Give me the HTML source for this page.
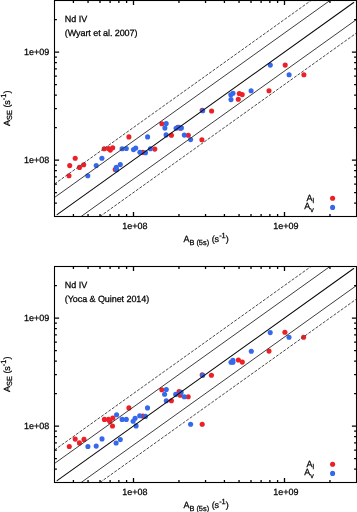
<!DOCTYPE html>
<html><head><meta charset="utf-8"><style>
html,body{margin:0;padding:0;background:#fff;width:357px;height:512px;overflow:hidden;}
text{stroke:#000;stroke-width:0.25px;}
svg{display:block;will-change:transform;text-rendering:geometricPrecision;font-family:"Liberation Sans",sans-serif;}
</style></head><body>
<svg width="357" height="512" viewBox="0 0 357 512" font-family="Liberation Sans, sans-serif" font-size="9.0" fill="#000">
<circle cx="69.0" cy="175.7" r="2.55" fill="#ec2027"/>
<circle cx="69.7" cy="165.6" r="2.55" fill="#ec2027"/>
<circle cx="75.2" cy="158.3" r="2.55" fill="#ec2027"/>
<circle cx="79.5" cy="167.4" r="2.55" fill="#ec2027"/>
<circle cx="83.7" cy="164.8" r="2.55" fill="#ec2027"/>
<circle cx="104.2" cy="148.8" r="2.55" fill="#ec2027"/>
<circle cx="108.5" cy="148.5" r="2.55" fill="#ec2027"/>
<circle cx="110.3" cy="150.1" r="2.55" fill="#ec2027"/>
<circle cx="112.7" cy="147.8" r="2.55" fill="#ec2027"/>
<circle cx="115.2" cy="169.6" r="2.55" fill="#ec2027"/>
<circle cx="128.9" cy="136.9" r="2.55" fill="#ec2027"/>
<circle cx="142.8" cy="152.4" r="2.55" fill="#ec2027"/>
<circle cx="154.8" cy="149.1" r="2.55" fill="#ec2027"/>
<circle cx="161.9" cy="123.8" r="2.55" fill="#ec2027"/>
<circle cx="171.4" cy="135.2" r="2.55" fill="#ec2027"/>
<circle cx="177.8" cy="127.3" r="2.55" fill="#ec2027"/>
<circle cx="180.3" cy="128.3" r="2.55" fill="#ec2027"/>
<circle cx="188.3" cy="135.2" r="2.55" fill="#ec2027"/>
<circle cx="202.2" cy="110.3" r="2.55" fill="#ec2027"/>
<circle cx="211.6" cy="111.0" r="2.55" fill="#ec2027"/>
<circle cx="201.9" cy="139.7" r="2.55" fill="#ec2027"/>
<circle cx="239.3" cy="93.5" r="2.55" fill="#ec2027"/>
<circle cx="242.2" cy="94.6" r="2.55" fill="#ec2027"/>
<circle cx="238.3" cy="99.2" r="2.55" fill="#ec2027"/>
<circle cx="269.0" cy="90.8" r="2.55" fill="#ec2027"/>
<circle cx="285.2" cy="65.1" r="2.55" fill="#ec2027"/>
<circle cx="303.9" cy="74.8" r="2.55" fill="#ec2027"/>
<circle cx="87.8" cy="175.8" r="2.55" fill="#3668ea"/>
<circle cx="96.2" cy="165.6" r="2.55" fill="#3668ea"/>
<circle cx="101.9" cy="158.3" r="2.55" fill="#3668ea"/>
<circle cx="116.3" cy="167.3" r="2.55" fill="#3668ea"/>
<circle cx="116.5" cy="169.8" r="2.55" fill="#3668ea"/>
<circle cx="120.3" cy="164.6" r="2.55" fill="#3668ea"/>
<circle cx="122.1" cy="148.8" r="2.55" fill="#3668ea"/>
<circle cx="126.3" cy="148.5" r="2.55" fill="#3668ea"/>
<circle cx="133.5" cy="149.6" r="2.55" fill="#3668ea"/>
<circle cx="135.7" cy="148.1" r="2.55" fill="#3668ea"/>
<circle cx="139.9" cy="152.3" r="2.55" fill="#3668ea"/>
<circle cx="145.5" cy="152.8" r="2.55" fill="#3668ea"/>
<circle cx="147.6" cy="136.9" r="2.55" fill="#3668ea"/>
<circle cx="150.4" cy="148.8" r="2.55" fill="#3668ea"/>
<circle cx="166.2" cy="123.6" r="2.55" fill="#3668ea"/>
<circle cx="164.9" cy="128.1" r="2.55" fill="#3668ea"/>
<circle cx="166.1" cy="134.9" r="2.55" fill="#3668ea"/>
<circle cx="176.1" cy="128.2" r="2.55" fill="#3668ea"/>
<circle cx="178.9" cy="127.4" r="2.55" fill="#3668ea"/>
<circle cx="181.4" cy="127.9" r="2.55" fill="#3668ea"/>
<circle cx="184.3" cy="135.1" r="2.55" fill="#3668ea"/>
<circle cx="190.6" cy="139.6" r="2.55" fill="#3668ea"/>
<circle cx="202.7" cy="110.7" r="2.55" fill="#3668ea"/>
<circle cx="230.8" cy="94.7" r="2.55" fill="#3668ea"/>
<circle cx="233.0" cy="93.2" r="2.55" fill="#3668ea"/>
<circle cx="231.0" cy="99.6" r="2.55" fill="#3668ea"/>
<circle cx="251.1" cy="90.8" r="2.55" fill="#3668ea"/>
<circle cx="270.3" cy="65.1" r="2.55" fill="#3668ea"/>
<circle cx="289.1" cy="74.8" r="2.55" fill="#3668ea"/>
<line x1="57.10" y1="214.64" x2="353.70" y2="2.50" stroke="#0a0a0a" stroke-width="1.05" stroke-linecap="round"/>
<line x1="54.50" y1="197.48" x2="329.91" y2="0.50" stroke="#333" stroke-width="0.95"/>
<line x1="81.09" y1="216.50" x2="356.50" y2="19.52" stroke="#333" stroke-width="0.95"/>
<line x1="54.50" y1="183.99" x2="311.04" y2="0.50" stroke="#4a4a4a" stroke-width="1.0" stroke-dasharray="3 1.42"/>
<line x1="99.96" y1="216.50" x2="356.50" y2="33.01" stroke="#4a4a4a" stroke-width="1.0" stroke-dasharray="3 1.42"/>
<path d="M73.42 216.5v-2.4M73.42 0.5v2.4M54.5 203.16h2.4M356.5 203.16h-2.4M88.05 216.5v-2.4M88.05 0.5v2.4M54.5 192.69h2.4M356.5 192.69h-2.4M100.01 216.5v-2.4M100.01 0.5v2.4M54.5 184.14h2.4M356.5 184.14h-2.4M110.11 216.5v-2.4M110.11 0.5v2.4M54.5 176.91h2.4M356.5 176.91h-2.4M118.87 216.5v-2.4M118.87 0.5v2.4M54.5 170.65h2.4M356.5 170.65h-2.4M126.60 216.5v-2.4M126.60 0.5v2.4M54.5 165.12h2.4M356.5 165.12h-2.4M133.50 216.5v-4.6M133.50 0.5v4.6M54.5 160.18h4.6M356.5 160.18h-4.6M178.96 216.5v-2.4M178.96 0.5v2.4M54.5 127.67h2.4M356.5 127.67h-2.4M205.55 216.5v-2.4M205.55 0.5v2.4M54.5 108.65h2.4M356.5 108.65h-2.4M224.42 216.5v-2.4M224.42 0.5v2.4M54.5 95.16h2.4M356.5 95.16h-2.4M239.05 216.5v-2.4M239.05 0.5v2.4M54.5 84.69h2.4M356.5 84.69h-2.4M251.01 216.5v-2.4M251.01 0.5v2.4M54.5 76.14h2.4M356.5 76.14h-2.4M261.11 216.5v-2.4M261.11 0.5v2.4M54.5 68.91h2.4M356.5 68.91h-2.4M269.87 216.5v-2.4M269.87 0.5v2.4M54.5 62.65h2.4M356.5 62.65h-2.4M277.60 216.5v-2.4M277.60 0.5v2.4M54.5 57.12h2.4M356.5 57.12h-2.4M284.50 216.5v-4.6M284.50 0.5v4.6M54.5 52.18h4.6M356.5 52.18h-4.6M329.96 216.5v-2.4M329.96 0.5v2.4M54.5 19.67h2.4M356.5 19.67h-2.4" stroke="#000" stroke-width="1.3" fill="none"/>
<rect x="54.5" y="0.5" width="302.0" height="216.0" fill="none" stroke="#000" stroke-width="1.1"/>
<text x="134.95" y="229.00" text-anchor="middle">1e+08</text>
<text x="49.2" y="163.48" text-anchor="end">1e+08</text>
<text x="285.95" y="229.00" text-anchor="middle">1e+09</text>
<text x="49.2" y="55.48" text-anchor="end">1e+09</text>
<text x="64.8" y="22.40">Nd IV</text>
<text x="64.8" y="35.50" letter-spacing="-0.07">(Wyart et al. 2007)</text>
<text x="314" y="200.60" text-anchor="end">A<tspan font-size="7" dy="2.4">l</tspan></text>
<text x="313.8" y="209.10" text-anchor="end">A<tspan font-size="7" dy="2.6">v</tspan></text>
<circle cx="332.6" cy="198.3" r="2.55" fill="#ec2027"/>
<circle cx="332.6" cy="207.4" r="2.55" fill="#3668ea"/>
<text x="183.4" y="242.10">A<tspan font-size="7.4" dy="2.6">B (5s)</tspan><tspan dy="-2.6"> (s</tspan><tspan font-size="7.4" dy="-4.5">-1</tspan><tspan dy="4.5">)</tspan></text>
<text transform="translate(9.8 126) rotate(-90)" x="0" y="0">A<tspan font-size="7.4" dy="2.6">SE</tspan><tspan dy="-2.6"> (s</tspan><tspan font-size="7.4" dy="-4.0">-1</tspan><tspan dy="4.0">)</tspan></text>
<circle cx="69.3" cy="446.5" r="2.55" fill="#ec2027"/>
<circle cx="75.2" cy="439.1" r="2.55" fill="#ec2027"/>
<circle cx="79.4" cy="442.9" r="2.55" fill="#ec2027"/>
<circle cx="84.0" cy="439.4" r="2.55" fill="#ec2027"/>
<circle cx="104.4" cy="419.4" r="2.55" fill="#ec2027"/>
<circle cx="108.4" cy="419.4" r="2.55" fill="#ec2027"/>
<circle cx="109.9" cy="421.4" r="2.55" fill="#ec2027"/>
<circle cx="112.8" cy="418.0" r="2.55" fill="#ec2027"/>
<circle cx="112.5" cy="426.0" r="2.55" fill="#ec2027"/>
<circle cx="128.9" cy="407.9" r="2.55" fill="#ec2027"/>
<circle cx="142.8" cy="416.1" r="2.55" fill="#ec2027"/>
<circle cx="161.8" cy="389.8" r="2.55" fill="#ec2027"/>
<circle cx="171.4" cy="400.8" r="2.55" fill="#ec2027"/>
<circle cx="179.1" cy="391.5" r="2.55" fill="#ec2027"/>
<circle cx="180.2" cy="395.3" r="2.55" fill="#ec2027"/>
<circle cx="188.2" cy="396.7" r="2.55" fill="#ec2027"/>
<circle cx="202.2" cy="424.3" r="2.55" fill="#ec2027"/>
<circle cx="202.2" cy="374.9" r="2.55" fill="#ec2027"/>
<circle cx="211.4" cy="375.2" r="2.55" fill="#ec2027"/>
<circle cx="238.4" cy="360.0" r="2.55" fill="#ec2027"/>
<circle cx="242.3" cy="362.1" r="2.55" fill="#ec2027"/>
<circle cx="269.0" cy="351.1" r="2.55" fill="#ec2027"/>
<circle cx="284.9" cy="332.3" r="2.55" fill="#ec2027"/>
<circle cx="303.6" cy="337.2" r="2.55" fill="#ec2027"/>
<circle cx="87.9" cy="446.5" r="2.55" fill="#3668ea"/>
<circle cx="96.2" cy="446.1" r="2.55" fill="#3668ea"/>
<circle cx="102.0" cy="438.9" r="2.55" fill="#3668ea"/>
<circle cx="116.1" cy="443.0" r="2.55" fill="#3668ea"/>
<circle cx="120.3" cy="439.6" r="2.55" fill="#3668ea"/>
<circle cx="116.6" cy="414.8" r="2.55" fill="#3668ea"/>
<circle cx="122.1" cy="419.4" r="2.55" fill="#3668ea"/>
<circle cx="126.3" cy="419.4" r="2.55" fill="#3668ea"/>
<circle cx="133.1" cy="421.3" r="2.55" fill="#3668ea"/>
<circle cx="135.1" cy="418.3" r="2.55" fill="#3668ea"/>
<circle cx="136.1" cy="425.9" r="2.55" fill="#3668ea"/>
<circle cx="139.7" cy="415.8" r="2.55" fill="#3668ea"/>
<circle cx="145.4" cy="416.4" r="2.55" fill="#3668ea"/>
<circle cx="147.5" cy="407.9" r="2.55" fill="#3668ea"/>
<circle cx="166.3" cy="389.5" r="2.55" fill="#3668ea"/>
<circle cx="164.6" cy="394.2" r="2.55" fill="#3668ea"/>
<circle cx="166.3" cy="400.7" r="2.55" fill="#3668ea"/>
<circle cx="175.7" cy="394.4" r="2.55" fill="#3668ea"/>
<circle cx="181.1" cy="392.4" r="2.55" fill="#3668ea"/>
<circle cx="184.3" cy="396.8" r="2.55" fill="#3668ea"/>
<circle cx="190.6" cy="424.3" r="2.55" fill="#3668ea"/>
<circle cx="202.7" cy="375.3" r="2.55" fill="#3668ea"/>
<circle cx="231.0" cy="362.3" r="2.55" fill="#3668ea"/>
<circle cx="232.9" cy="360.3" r="2.55" fill="#3668ea"/>
<circle cx="232.9" cy="362.3" r="2.55" fill="#3668ea"/>
<circle cx="251.3" cy="351.2" r="2.55" fill="#3668ea"/>
<circle cx="270.2" cy="332.6" r="2.55" fill="#3668ea"/>
<circle cx="289.0" cy="337.2" r="2.55" fill="#3668ea"/>
<line x1="57.10" y1="480.64" x2="353.70" y2="268.50" stroke="#0a0a0a" stroke-width="1.05" stroke-linecap="round"/>
<line x1="54.50" y1="463.48" x2="329.91" y2="266.50" stroke="#333" stroke-width="0.95"/>
<line x1="81.09" y1="482.50" x2="356.50" y2="285.52" stroke="#333" stroke-width="0.95"/>
<line x1="54.50" y1="449.99" x2="311.04" y2="266.50" stroke="#4a4a4a" stroke-width="1.0" stroke-dasharray="3 1.42"/>
<line x1="99.96" y1="482.50" x2="356.50" y2="299.01" stroke="#4a4a4a" stroke-width="1.0" stroke-dasharray="3 1.42"/>
<path d="M73.42 482.5v-2.4M73.42 266.5v2.4M54.5 469.16h2.4M356.5 469.16h-2.4M88.05 482.5v-2.4M88.05 266.5v2.4M54.5 458.69h2.4M356.5 458.69h-2.4M100.01 482.5v-2.4M100.01 266.5v2.4M54.5 450.14h2.4M356.5 450.14h-2.4M110.11 482.5v-2.4M110.11 266.5v2.4M54.5 442.91h2.4M356.5 442.91h-2.4M118.87 482.5v-2.4M118.87 266.5v2.4M54.5 436.65h2.4M356.5 436.65h-2.4M126.60 482.5v-2.4M126.60 266.5v2.4M54.5 431.12h2.4M356.5 431.12h-2.4M133.50 482.5v-4.6M133.50 266.5v4.6M54.5 426.18h4.6M356.5 426.18h-4.6M178.96 482.5v-2.4M178.96 266.5v2.4M54.5 393.67h2.4M356.5 393.67h-2.4M205.55 482.5v-2.4M205.55 266.5v2.4M54.5 374.65h2.4M356.5 374.65h-2.4M224.42 482.5v-2.4M224.42 266.5v2.4M54.5 361.16h2.4M356.5 361.16h-2.4M239.05 482.5v-2.4M239.05 266.5v2.4M54.5 350.69h2.4M356.5 350.69h-2.4M251.01 482.5v-2.4M251.01 266.5v2.4M54.5 342.14h2.4M356.5 342.14h-2.4M261.11 482.5v-2.4M261.11 266.5v2.4M54.5 334.91h2.4M356.5 334.91h-2.4M269.87 482.5v-2.4M269.87 266.5v2.4M54.5 328.65h2.4M356.5 328.65h-2.4M277.60 482.5v-2.4M277.60 266.5v2.4M54.5 323.12h2.4M356.5 323.12h-2.4M284.50 482.5v-4.6M284.50 266.5v4.6M54.5 318.18h4.6M356.5 318.18h-4.6M329.96 482.5v-2.4M329.96 266.5v2.4M54.5 285.67h2.4M356.5 285.67h-2.4" stroke="#000" stroke-width="1.3" fill="none"/>
<rect x="54.5" y="266.5" width="302.0" height="216.0" fill="none" stroke="#000" stroke-width="1.1"/>
<text x="134.95" y="495.00" text-anchor="middle">1e+08</text>
<text x="49.2" y="429.48" text-anchor="end">1e+08</text>
<text x="285.95" y="495.00" text-anchor="middle">1e+09</text>
<text x="49.2" y="321.48" text-anchor="end">1e+09</text>
<text x="64.8" y="288.40">Nd IV</text>
<text x="64.8" y="301.50" letter-spacing="-0.07">(Yoca &amp; Quinet 2014)</text>
<text x="314" y="466.60" text-anchor="end">A<tspan font-size="7" dy="2.4">l</tspan></text>
<text x="313.8" y="475.10" text-anchor="end">A<tspan font-size="7" dy="2.6">v</tspan></text>
<circle cx="332.6" cy="464.3" r="2.55" fill="#ec2027"/>
<circle cx="332.6" cy="473.4" r="2.55" fill="#3668ea"/>
<text x="183.4" y="508.10">A<tspan font-size="7.4" dy="2.6">B (5s)</tspan><tspan dy="-2.6"> (s</tspan><tspan font-size="7.4" dy="-4.5">-1</tspan><tspan dy="4.5">)</tspan></text>
<text transform="translate(9.8 392) rotate(-90)" x="0" y="0">A<tspan font-size="7.4" dy="2.6">SE</tspan><tspan dy="-2.6"> (s</tspan><tspan font-size="7.4" dy="-4.0">-1</tspan><tspan dy="4.0">)</tspan></text>
</svg>
</body></html>
